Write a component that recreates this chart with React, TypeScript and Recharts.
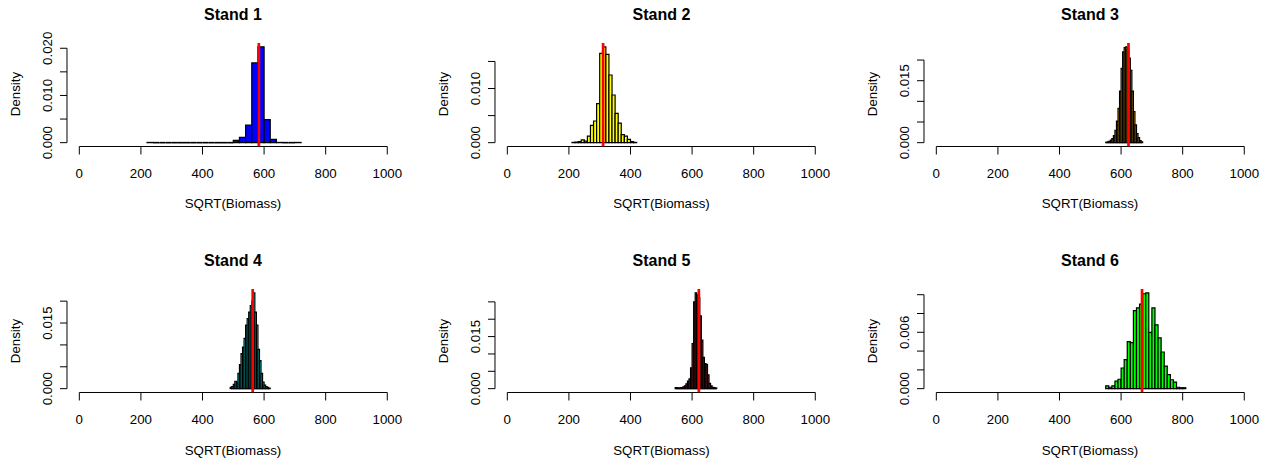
// Seis histogramas de densidade (Stand 1..6) em grade 2x3, no estilo hist() do R,
// com a media de cada stand marcada por uma linha vermelha vertical.
import { ComposedChart, XAxis, YAxis, Line, ReferenceArea, ReferenceLine } from "recharts";

const FONTE = '"Liberation Sans", Arial, Helvetica, sans-serif';

const xTicks = [0, 200, 400, 600, 800, 1000];
const xTickLabels = ["0", "200", "400", "600", "800", "1000"];
const xDomain = [-40, 1040];

const stand1Edges = [220, 240, 260, 280, 300, 320, 340, 360, 380, 400, 420, 440, 460, 480, 500, 520, 540, 560, 580, 600, 620, 640, 660, 680, 700, 720];
const stand1Density = [0.00005, 0, 0, 0, 0, 0, 0, 0, 0, 0, 0, 0, 0, 0, 0.0005, 0.0011, 0.0037, 0.0169, 0.0203, 0.0049, 0.0007, 0.00005, 0, 0, 0.00005];
const stand1Mean = 583;
const stand1YTicks = [0, 0.005, 0.01, 0.015, 0.02];
const stand1YLabels = ["0.000", "", "0.010", "", "0.020"];

const stand2Edges = [210, 220, 230, 240, 250, 260, 270, 280, 290, 300, 310, 320, 330, 340, 350, 360, 370, 380, 390, 400, 410, 420];
const stand2Density = [0.00005, 0.0001, 0.0002, 0.0005, 0.0003, 0.0012, 0.0032, 0.004, 0.0072, 0.0165, 0.0177, 0.0163, 0.0125, 0.0088, 0.0054, 0.0036, 0.0015, 0.0012, 0.0006, 0.0002, 0.00005];
const stand2Mean = 311;
const stand2YTicks = [0, 0.005, 0.01, 0.015];
const stand2YLabels = ["0.000", "", "0.010", ""];

const stand3Edges = [550, 555, 560, 565, 570, 575, 580, 585, 590, 595, 600, 605, 610, 615, 620, 625, 630, 635, 640, 645, 650, 655, 660, 665, 670];
const stand3Density = [0.0001, 0.0002, 0.0003, 0.0006, 0.001, 0.0017, 0.003, 0.0052, 0.0083, 0.0125, 0.018, 0.022, 0.023, 0.0232, 0.0225, 0.0205, 0.0175, 0.0125, 0.0075, 0.0043, 0.0022, 0.0012, 0.0005, 0.0002];
const stand3Mean = 624;
const stand3YTicks = [0, 0.005, 0.01, 0.015, 0.02];
const stand3YLabels = ["0.000", "", "", "0.015", ""];

const stand4Edges = [490, 495, 500, 505, 510, 515, 520, 525, 530, 535, 540, 545, 550, 555, 560, 565, 570, 575, 580, 585, 590, 595, 600, 605, 610, 615, 620];
const stand4Density = [0.0003, 0.0005, 0.001, 0.0017, 0.0015, 0.0035, 0.0055, 0.008, 0.0095, 0.0115, 0.0145, 0.016, 0.0175, 0.019, 0.02, 0.0219, 0.0175, 0.0145, 0.009, 0.0064, 0.0035, 0.0015, 0.0008, 0.0005, 0.0003, 0.0001];
const stand4Mean = 563;
const stand4YTicks = [0, 0.005, 0.01, 0.015, 0.02];
const stand4YLabels = ["0.000", "", "", "0.015", ""];

const stand5Edges = [545, 550, 555, 560, 565, 570, 575, 580, 585, 590, 595, 600, 605, 610, 615, 620, 625, 630, 635, 640, 645, 650, 655, 660, 665, 670, 675, 680];
const stand5Density = [0.0003, 0.0003, 0.0001, 0.0003, 0.0003, 0.0005, 0.0008, 0.0014, 0.0022, 0.0028, 0.006, 0.013, 0.025, 0.0276, 0.027, 0.0262, 0.021, 0.014, 0.009, 0.0072, 0.007, 0.004, 0.0015, 0.0008, 0.0004, 0.0003, 0.0002];
const stand5Mean = 622;
const stand5YTicks = [0, 0.005, 0.01, 0.015, 0.02, 0.025];
const stand5YLabels = ["0.000", "", "", "0.015", "", ""];

const stand6Edges = [550, 560, 570, 580, 590, 600, 610, 620, 630, 640, 650, 660, 670, 680, 690, 700, 710, 720, 730, 740, 750, 760, 770, 780, 790, 800, 810];
const stand6Density = [0.0003, 0.00015, 0.0003, 0.0008, 0.001, 0.0022, 0.0031, 0.005, 0.0049, 0.0083, 0.0086, 0.009, 0.0101, 0.0102, 0.006, 0.0086, 0.0068, 0.0054, 0.0039, 0.0024, 0.0015, 0.00095, 0.0007, 0.00015, 0.0001, 0.0001];
const stand6Mean = 668;
const stand6YTicks = [0, 0.002, 0.004, 0.006, 0.008, 0.01];
const stand6YLabels = ["0.000", "", "", "0.006", "", ""];

// geometria da area de plotagem (regiao do plot no R)
const COLUNAS = [66.7, 495.2, 923.7];
const LINHAS = [42.5, 289];
const LARG = 332.6;
const ALT = 103.5;
const Y_W = 70;
const M_TOP = 45;
const X_H = 75;

type Props = {
  titulo: string;
  edges: number[];
  density: number[];
  mean: number;
  yTicks: number[];
  yLabels: string[];
  cor: string;
  left: number;
  top: number;
};

function Painel({ titulo, edges, density, mean, yTicks, yLabels, cor, left, top }: Props) {
  const max = Math.max(...density);
  const yDomain = [-0.04 * max, 1.04 * max];
  const media = [
    { x: mean, y: yDomain[0] },
    { x: mean, y: yDomain[1] },
  ];
  const largura = Y_W + LARG + 8;
  const altura = M_TOP + ALT + X_H;

  const XTick = (p: any) => (
    <text x={p.x} y={p.y + 19} textAnchor="middle" dominantBaseline="central" fontSize={13.3} fontFamily={FONTE} fill="#000">
      {xTickLabels[xTicks.indexOf(p.payload.value)]}
    </text>
  );
  const YTick = (p: any) => {
    const rot = yLabels[yTicks.indexOf(p.payload.value)] ?? "";
    const cx = p.x - 12;
    return (
      <text x={cx} y={p.y} transform={`rotate(-90, ${cx}, ${p.y})`} textAnchor="middle" dominantBaseline="central" fontSize={13.3} fontFamily={FONTE} fill="#000">
        {rot}
      </text>
    );
  };

  return (
    <div style={{ position: "absolute", left: left - Y_W, top: top - M_TOP, width: largura, height: altura }}>
      <ComposedChart width={largura} height={altura} data={media} margin={{ top: M_TOP, right: 8, bottom: 0, left: 0 }}>
        <XAxis
          type="number"
          dataKey="x"
          domain={xDomain}
          ticks={xTicks}
          allowDataOverflow
          interval={0}
          axisLine={false}
          tickLine={{ stroke: "#000" }}
          tickSize={8}
          tickMargin={0}
          height={X_H}
          tick={XTick}
        />
        <YAxis
          type="number"
          domain={yDomain}
          ticks={yTicks}
          allowDataOverflow
          interval={0}
          axisLine={false}
          tickLine={{ stroke: "#000" }}
          tickSize={7}
          tickMargin={0}
          width={Y_W}
          tick={YTick}
        />
        {density.map((d, i) =>
          d > 0 ? (
            <ReferenceArea
              key={i}
              x1={edges[i]}
              x2={edges[i + 1]}
              y1={0}
              y2={d}
              fill={cor}
              fillOpacity={1}
              stroke="#000"
              strokeWidth={1.2}
              ifOverflow="visible"
            />
          ) : (
            <ReferenceLine
              key={i}
              segment={[
                { x: edges[i], y: 0 },
                { x: edges[i + 1], y: 0 },
              ]}
              stroke="#000"
              strokeWidth={1.6}
              ifOverflow="visible"
            />
          )
        )}
        <ReferenceLine
          segment={[
            { x: xTicks[0], y: yDomain[0] },
            { x: xTicks[xTicks.length - 1], y: yDomain[0] },
          ]}
          stroke="#000"
          ifOverflow="visible"
        />
        <ReferenceLine
          segment={[
            { x: xDomain[0], y: yTicks[0] },
            { x: xDomain[0], y: yTicks[yTicks.length - 1] },
          ]}
          stroke="#000"
          ifOverflow="visible"
        />
        <Line dataKey="y" stroke="#FF0000" strokeWidth={2.7} dot={false} activeDot={false} isAnimationActive={false} />
      </ComposedChart>
      <div
        style={{
          position: "absolute",
          left: Y_W,
          width: LARG,
          top: M_TOP - 28 - 10,
          height: 20,
          lineHeight: "20px",
          textAlign: "center",
          fontFamily: FONTE,
          fontWeight: "bold",
          fontSize: 16,
          color: "#000",
        }}
      >
        {titulo}
      </div>
      <div
        style={{
          position: "absolute",
          left: Y_W,
          width: LARG,
          top: M_TOP + ALT + 58 - 10,
          height: 20,
          lineHeight: "20px",
          textAlign: "center",
          fontFamily: FONTE,
          fontSize: 13.3,
          color: "#000",
        }}
      >
        SQRT(Biomass)
      </div>
      <div
        style={{
          position: "absolute",
          left: Y_W - 51 - 50,
          width: 100,
          top: M_TOP + ALT / 2 - 10,
          height: 20,
          lineHeight: "20px",
          textAlign: "center",
          fontFamily: FONTE,
          fontSize: 13.3,
          color: "#000",
          transform: "rotate(-90deg)",
        }}
      >
        Density
      </div>
    </div>
  );
}

export default function App() {
  return (
    <div style={{ position: "absolute", left: 0, top: 0, width: 1266, height: 461, background: "#fff", overflow: "hidden" }}>
      <Painel titulo="Stand 1" edges={stand1Edges} density={stand1Density} mean={stand1Mean} yTicks={stand1YTicks} yLabels={stand1YLabels} cor="#0000FF" left={COLUNAS[0]} top={LINHAS[0]} />
      <Painel titulo="Stand 2" edges={stand2Edges} density={stand2Density} mean={stand2Mean} yTicks={stand2YTicks} yLabels={stand2YLabels} cor="#FFFF00" left={COLUNAS[1]} top={LINHAS[0]} />
      <Painel titulo="Stand 3" edges={stand3Edges} density={stand3Density} mean={stand3Mean} yTicks={stand3YTicks} yLabels={stand3YLabels} cor="#FFA500" left={COLUNAS[2]} top={LINHAS[0]} />
      <Painel titulo="Stand 4" edges={stand4Edges} density={stand4Density} mean={stand4Mean} yTicks={stand4YTicks} yLabels={stand4YLabels} cor="#00FFFF" left={COLUNAS[0]} top={LINHAS[1]} />
      <Painel titulo="Stand 5" edges={stand5Edges} density={stand5Density} mean={stand5Mean} yTicks={stand5YTicks} yLabels={stand5YLabels} cor="#A52A2A" left={COLUNAS[1]} top={LINHAS[1]} />
      <Painel titulo="Stand 6" edges={stand6Edges} density={stand6Density} mean={stand6Mean} yTicks={stand6YTicks} yLabels={stand6YLabels} cor="#00FF00" left={COLUNAS[2]} top={LINHAS[1]} />
    </div>
  );
}
